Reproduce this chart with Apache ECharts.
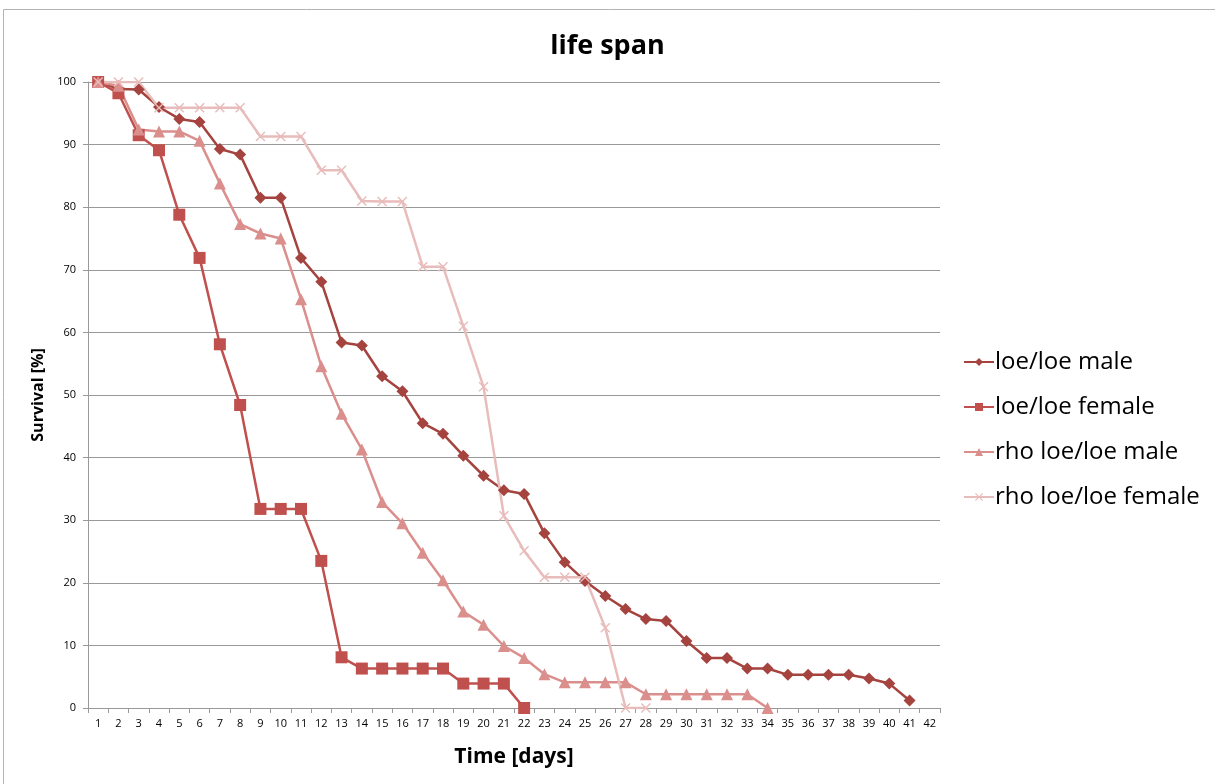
<!DOCTYPE html>
<html>
<head>
<meta charset="utf-8">
<script src="https://cdn.jsdelivr.net/npm/echarts@6/dist/echarts.min.js"></script>
<style>
  html, body { margin: 0; padding: 0; background: #fff; }
  #chart { width: 1215px; height: 784px; }
</style>
</head>
<body>
<div id="chart"></div>
<script>
// days 1..42
var days = [];
for (var d = 1; d <= 42; d++) days.push(String(d));

// survival in %
var loeMale = [100, 98.9, 98.8, 96.0, 94.1, 93.6, 89.3, 88.4, 81.5, 81.5, 71.9, 68.1, 58.4, 57.9, 53.0,
  50.6, 45.5, 43.8, 40.3, 37.1, 34.8, 34.2, 27.9, 23.3, 20.3, 17.9, 15.8, 14.2, 13.9, 10.7,
  8.0, 8.0, 6.3, 6.3, 5.3, 5.3, 5.3, 5.3, 4.7, 3.9, 1.2];
var loeFemale = [100, 98.2, 91.5, 89.1, 78.8, 71.9, 58.1, 48.4, 31.8, 31.8, 31.8, 23.5, 8.1, 6.3, 6.3,
  6.3, 6.3, 6.3, 3.9, 3.9, 3.9, 0];
var rhoMale = [100, 99.4, 92.4, 92.1, 92.1, 90.6, 83.8, 77.3, 75.8, 75.0, 65.3, 54.6, 47.0, 41.3, 32.9,
  29.5, 24.8, 20.4, 15.4, 13.3, 9.9, 8.0, 5.4, 4.1, 4.1, 4.1, 4.1, 2.2, 2.2, 2.2,
  2.2, 2.2, 2.2, 0];
var rhoFemale = [100, 100, 100, 95.9, 95.9, 95.9, 95.9, 95.9, 91.3, 91.3, 91.3, 85.9, 85.9, 81.0, 80.9,
  80.9, 70.5, 70.5, 61.0, 51.3, 30.7, 25.1, 20.9, 20.9, 20.9, 12.8, 0, 0];

var names = ['loe/loe male', 'loe/loe female', 'rho loe/loe male', 'rho loe/loe female'];
var colors = ['#a5433f', '#c0504d', '#da8f8d', '#e8bcbb'];

var font = '"Open Sans", Lato, sans-serif';
var xShape = 'path://M1,0 L5,4 L9,0 L10,1 L6,5 L10,9 L9,10 L5,6 L1,10 L0,9 L4,5 L0,1 Z';

function mkSeries(i, data, symbol, size) {
  return {
    name: names[i],
    type: 'line',
    data: data,
    symbol: symbol,
    symbolSize: size,
    showAllSymbol: true,
    lineStyle: { color: colors[i], width: 2.5 },
    itemStyle: { color: colors[i] },
    emphasis: { disabled: true }
  };
}

var myChart = echarts.init(document.getElementById('chart'));
var option = {
  animation: false,
  color: colors,
  title: {
    text: 'life span',
    left: 'center',
    top: 28,
    textStyle: { fontFamily: font, fontSize: 27, fontWeight: 'bold', color: '#000' }
  },
  graphic: [{
    type: 'rect',
    shape: { x: 3.5, y: 9.5, width: 1230, height: 800 },
    style: { fill: 'none', stroke: '#b3b3b3', lineWidth: 1 },
    silent: true
  }],
  legend: {
    orient: 'vertical',
    left: 958,
    top: 345,
    itemWidth: 30,
    itemHeight: 10,
    itemGap: 21,
    textStyle: { fontFamily: font, fontSize: 24, color: '#000', padding: [0, 0, 0, -4] },
    data: names
  },
  grid: { left: 88, right: 275, top: 82, bottom: 76 },
  xAxis: {
    type: 'category',
    data: days,
    boundaryGap: true,
    name: 'Time [days]',
    nameLocation: 'middle',
    nameGap: 39,
    nameTextStyle: { fontFamily: font, fontSize: 21, fontWeight: 'bold', color: '#000' },
    axisLine: { lineStyle: { color: '#999', width: 1 } },
    axisTick: { show: true, interval: 0, length: 5, lineStyle: { color: '#999' } },
    axisLabel: { interval: 0, fontFamily: font, fontSize: 11, color: '#000', margin: 10 }
  },
  yAxis: {
    type: 'value',
    min: 0,
    max: 100,
    interval: 10,
    name: 'Survival [%]',
    nameLocation: 'middle',
    nameGap: 41,
    nameTextStyle: { fontFamily: font, fontSize: 16, fontWeight: 'bold', color: '#000' },
    axisLine: { show: true, lineStyle: { color: '#999', width: 1 } },
    axisTick: { show: true, length: 5, lineStyle: { color: '#999' } },
    axisLabel: { fontFamily: font, fontSize: 11, color: '#000', margin: 12 },
    splitLine: { lineStyle: { color: '#999', width: 1 } }
  },
  series: [
    mkSeries(0, loeMale, 'diamond', 12),
    mkSeries(1, loeFemale, 'rect', 12),
    mkSeries(2, rhoMale, 'triangle', 12),
    mkSeries(3, rhoFemale, xShape, 10)
  ]
};
myChart.setOption(option, true);
</script>
</body>
</html>
